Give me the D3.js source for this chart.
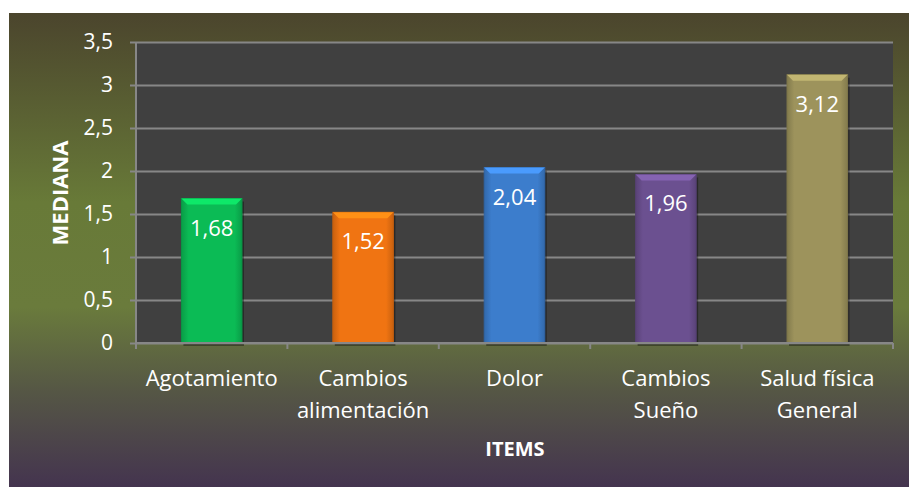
<!DOCTYPE html>
<html>
<head>
<meta charset="utf-8">
<script src="https://cdn.jsdelivr.net/npm/d3@7"></script>
<style>
  body { margin:0; background:#fff; }
  text { font-family: "Open Sans", Lato, sans-serif; fill:#fff; }
</style>
</head>
<body>
<div id="chart"></div>
<script>
var items = ["Agotamiento", "Cambios\nalimentación", "Dolor", "Cambios\nSueño", "Salud física\nGeneral"];
var medianas = [1.68, 1.52, 2.04, 1.96, 3.12];
var barColors = ["#0bbb55", "#f07412", "#3c7dcc", "#6b5090", "#9d935c"];
var yTicks = [0, 0.5, 1, 1.5, 2, 2.5, 3, 3.5];

var W = 909, H = 487;
var margin = { top: 42, right: 16, bottom: 144, left: 136 },
    width = 893 - margin.left,
    height = 343 - margin.top;

var svg = d3.select("#chart").append("svg").attr("width", W).attr("height", H);
var defs = svg.append("defs");

var bg = defs.append("linearGradient").attr("id", "bg").attr("x1", 0).attr("y1", 0).attr("x2", 0).attr("y2", 1);
bg.append("stop").attr("offset", "0").attr("stop-color", "#4b452d");
bg.append("stop").attr("offset", "0.4").attr("stop-color", "#687a38");
bg.append("stop").attr("offset", "0.62").attr("stop-color", "#6a7b3c");
bg.append("stop").attr("offset", "0.8").attr("stop-color", "#555645");
bg.append("stop").attr("offset", "1").attr("stop-color", "#44344f");

svg.append("rect").attr("x", 9).attr("y", 13).attr("width", W - 9).attr("height", H - 13).attr("fill", "url(#bg)");

var g = svg.append("g").attr("transform", "translate(" + margin.left + "," + margin.top + ")");

var x = d3.scaleBand().domain(items).range([0, width]).paddingInner(0.6).paddingOuter(0.3);
var y = d3.scaleLinear().domain([0, 3.5]).range([height, 0]);
var fmt = function(v) { return String(v).replace(".", ","); };

g.append("rect").attr("width", width).attr("height", height).attr("fill", "#404040");

// grid
g.append("g")
  .call(d3.axisLeft(y).tickValues(yTicks).tickSize(-width).tickFormat(""))
  .call(function(s) { s.select(".domain").remove(); s.selectAll("line").attr("stroke", "#878787").attr("stroke-width", 2); });

// bars
barColors.forEach(function(c, i) {
  var gr = defs.append("linearGradient").attr("id", "bar" + i);
  gr.append("stop").attr("offset", "0").attr("stop-color", d3.color(c).darker(0.5));
  gr.append("stop").attr("offset", "0.12").attr("stop-color", c);
  gr.append("stop").attr("offset", "0.88").attr("stop-color", c);
  gr.append("stop").attr("offset", "1").attr("stop-color", d3.color(c).darker(0.5));
});

var bars = g.selectAll(".bar").data(items).enter().append("g");
bars.append("rect")
  .attr("x", function(d) { return x(d) + 2; })
  .attr("y", function(d, i) { return y(medianas[i]) + 3; })
  .attr("width", x.bandwidth())
  .attr("height", function(d, i) { return height - y(medianas[i]); })
  .attr("fill", "rgba(0,0,0,0.35)");
bars.append("rect")
  .attr("x", function(d) { return x(d); })
  .attr("y", function(d, i) { return y(medianas[i]); })
  .attr("width", x.bandwidth())
  .attr("height", function(d, i) { return height - y(medianas[i]); })
  .attr("fill", function(d, i) { return "url(#bar" + i + ")"; })
  .attr("stroke", function(d, i) { return d3.color(barColors[i]).darker(0.6); })
  .attr("stroke-width", 1);
// top bevel
bars.append("path")
  .attr("d", function(d, i) {
    var x0 = x(d), x1 = x0 + x.bandwidth(), t = y(medianas[i]), b = 6;
    return "M" + x0 + "," + t + "L" + x1 + "," + t + "L" + (x1 - b) + "," + (t + b) + "L" + (x0 + b) + "," + (t + b) + "Z";
  })
  .attr("fill", function(d, i) { return d3.color(barColors[i]).brighter(0.6); });
bars.append("text")
  .attr("x", function(d) { return x(d) + x.bandwidth() / 2; })
  .attr("y", function(d, i) { return y(medianas[i]) + 37; })
  .attr("text-anchor", "middle")
  .style("font-size", "22px")
  .text(function(d, i) { return fmt(medianas[i]); });

// y axis
var yAxis = g.append("g")
  .call(d3.axisLeft(y).tickValues(yTicks).tickSize(6).tickPadding(17).tickFormat(fmt));
yAxis.select(".domain").attr("stroke", "#878787").attr("stroke-width", 2).attr("d", "M0,0V" + height);
yAxis.selectAll("line").attr("stroke", "#878787").attr("stroke-width", 2);
yAxis.selectAll("text").style("font-size", "21px").attr("fill", "#fff");

// x axis
var xAxis = g.append("g").attr("transform", "translate(0," + height + ")")
  .call(d3.axisBottom(x).tickSize(0).tickFormat(""));
xAxis.select(".domain").attr("stroke", "#878787").attr("stroke-width", 2).attr("d", "M0,0H" + width);
xAxis.selectAll(".sep").data(d3.range(items.length + 1)).enter().append("line")
  .attr("x1", function(d) { return d * width / items.length; })
  .attr("x2", function(d) { return d * width / items.length; })
  .attr("y1", 0).attr("y2", 6)
  .attr("stroke", "#878787").attr("stroke-width", 2);

var cat = g.selectAll(".cat").data(items).enter().append("text")
  .attr("text-anchor", "middle")
  .attr("transform", function(d) { return "translate(" + (x(d) + x.bandwidth() / 2) + "," + (height + 43) + ")"; })
  .style("font-size", "22px");
cat.selectAll("tspan").data(function(d) { return d.split("\n"); }).enter().append("tspan")
  .attr("x", 0).attr("dy", function(d, i) { return i ? 32 : 0; })
  .text(function(d) { return d; });

// axis titles
svg.append("text").attr("transform", "translate(68,193) rotate(-90)")
  .attr("text-anchor", "middle").style("font-size", "22px").style("font-weight", "bold").text("MEDIANA");
svg.append("text").attr("x", 515).attr("y", 456)
  .attr("text-anchor", "middle").style("font-size", "20px").style("font-weight", "bold").text("ITEMS");
</script>
</body>
</html>
